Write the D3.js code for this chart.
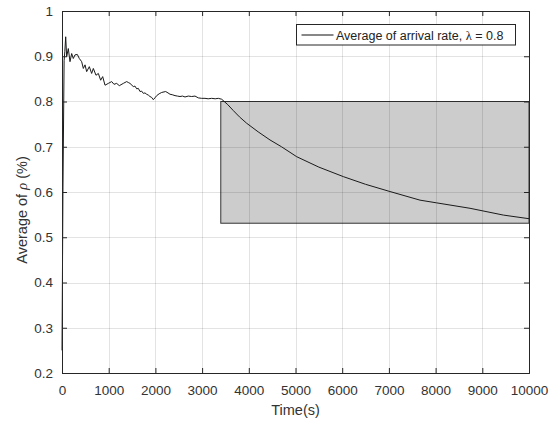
<!DOCTYPE html>
<html>
<head>
<meta charset="utf-8">
<script src="https://cdn.jsdelivr.net/npm/d3@7"></script>
<style>
  body { margin: 0; background: #fff; }
  svg { display: block; font-family: "Liberation Sans", Arial, sans-serif; }
</style>
</head>
<body>
<div id="chart"></div>
<script>
// time (s) and running average of rho
var timeVals = [0, 20, 45, 60, 79, 100, 135, 171, 207, 242, 278, 328, 371, 421, 457, 493, 528, 585, 635, 671, 728, 778, 828, 871, 921, 992, 1064, 1113, 1171, 1227, 1313, 1385, 1420, 1456, 1527, 1563, 1599, 1635, 1670, 1705, 1741, 1777, 1813, 1850, 1884, 1920, 1955, 1990, 2028, 2080, 2135, 2220, 2270, 2313, 2360, 2420, 2470, 2527, 2580, 2634, 2705, 2777, 2848, 2919, 2990, 3062, 3130, 3205, 3280, 3347, 3420, 3550, 3668, 3800, 3954, 4200, 4454, 4700, 5026, 5500, 6024, 6500, 7024, 7666, 8023, 8737, 9450, 10000];
var rhoVals = [0.25, 0.60, 0.89, 0.91, 0.943, 0.899, 0.917, 0.888, 0.906, 0.895, 0.903, 0.904, 0.895, 0.888, 0.873, 0.881, 0.866, 0.877, 0.862, 0.873, 0.858, 0.862, 0.847, 0.855, 0.836, 0.840, 0.844, 0.838, 0.840, 0.835, 0.840, 0.844, 0.842, 0.840, 0.833, 0.834, 0.828, 0.829, 0.822, 0.823, 0.818, 0.819, 0.816, 0.814, 0.811, 0.809, 0.804, 0.808, 0.813, 0.817, 0.820, 0.822, 0.819, 0.816, 0.815, 0.813, 0.812, 0.811, 0.812, 0.810, 0.812, 0.811, 0.812, 0.808, 0.807, 0.807, 0.806, 0.807, 0.806, 0.807, 0.805, 0.793, 0.780, 0.766, 0.752, 0.733, 0.715, 0.700, 0.678, 0.655, 0.634, 0.617, 0.601, 0.582, 0.576, 0.564, 0.549, 0.541];

var xTicks = [0, 1000, 2000, 3000, 4000, 5000, 6000, 7000, 8000, 9000, 10000];
var yTicks = [0.2, 0.3, 0.4, 0.5, 0.6, 0.7, 0.8, 0.9, 1];

// highlighted region [x0, x1, y0, y1]
var boxRegion = [3400, 10000, 0.531, 0.8];
var legendLabel = "Average of arrival rate, ";

var width = 555, height = 422,
  margin = { top: 11, right: 26, bottom: 49, left: 62 },
  innerW = width - margin.left - margin.right,
  innerH = height - margin.top - margin.bottom,
  axisColor = '#262626',
  tickLen = 5;

var svg = d3.select('#chart').append('svg')
  .attr('width', width)
  .attr('height', height);

var g = svg.append('g')
  .attr('transform', 'translate(' + margin.left + ',' + margin.top + ')');

var x = d3.scaleLinear().domain([0, 10000]).range([0, innerW]);
var y = d3.scaleLinear().domain([0.2, 1]).range([innerH, 0]);

// shaded box
g.append('rect')
  .attr('x', x(boxRegion[0]))
  .attr('y', y(boxRegion[3]))
  .attr('width', x(boxRegion[1]) - x(boxRegion[0]))
  .attr('height', y(boxRegion[2]) - y(boxRegion[3]))
  .attr('fill', '#cccccc')
  .attr('stroke', '#333')
  .attr('stroke-width', 1);

// grid (drawn on top, translucent like MATLAB)
var grid = g.append('g').attr('stroke', 'rgba(0,0,0,0.11)').attr('stroke-width', 1);
grid.selectAll('.vg').data(xTicks.slice(1, -1)).join('line')
  .attr('x1', d => Math.round(x(d)) + 0.5).attr('x2', d => Math.round(x(d)) + 0.5)
  .attr('y1', 0).attr('y2', innerH);
grid.selectAll('.hg').data(yTicks.slice(1, -1)).join('line')
  .attr('x1', 0).attr('x2', innerW)
  .attr('y1', d => Math.round(y(d)) + 0.5).attr('y2', d => Math.round(y(d)) + 0.5);

// data line
var line = d3.line()
  .x((d, i) => x(timeVals[i]))
  .y(d => y(d));

g.append('path')
  .datum(rhoVals)
  .attr('fill', 'none')
  .attr('stroke', '#1a1a1a')
  .attr('stroke-width', 1)
  .attr('stroke-linejoin', 'round')
  .attr('d', line);

// axes, ticks pointing inward, box on
var xAxis = d3.axisBottom(x).tickValues(xTicks).tickSize(-tickLen).tickPadding(12).tickFormat(d3.format('d'));
var yAxis = d3.axisLeft(y).tickValues(yTicks).tickSize(-tickLen).tickPadding(9).tickFormat(d => d === 1 ? '1' : d3.format('.1f')(d));

function styleAxis(sel) {
  sel.select('.domain').attr('stroke', axisColor);
  sel.selectAll('.tick line').attr('stroke', axisColor);
  sel.selectAll('.tick text').attr('fill', '#333').style('font-size', '13.5px');
}

g.append('g').attr('transform', 'translate(0,' + innerH + ')').call(xAxis).call(styleAxis);
g.append('g').call(yAxis).call(styleAxis);
g.append('g').call(d3.axisTop(x).tickValues(xTicks).tickSize(-tickLen).tickFormat(''))
  .call(styleAxis);
g.append('g').attr('transform', 'translate(' + innerW + ',0)')
  .call(d3.axisRight(y).tickValues(yTicks).tickSize(-tickLen).tickFormat(''))
  .call(styleAxis);

// axis labels
svg.append('text')
  .attr('x', margin.left + innerW / 2)
  .attr('y', 415)
  .attr('text-anchor', 'middle')
  .attr('fill', '#333')
  .style('font-size', '14.5px')
  .text('Time(s)');

var yl = svg.append('text')
  .attr('transform', 'translate(27,210) rotate(-90)')
  .attr('text-anchor', 'middle')
  .attr('fill', '#333')
  .style('font-size', '14.5px');
yl.append('tspan').text('Average of ');
yl.append('tspan').style('font-family', '"Liberation Serif", serif').style('font-style', 'italic').text('ρ');
yl.append('tspan').text(' (%)');

// legend
var lg = svg.append('g');
lg.append('rect')
  .attr('x', 296.5).attr('y', 24.5)
  .attr('width', 219).attr('height', 20.5)
  .attr('fill', '#fff')
  .attr('stroke', axisColor);
lg.append('line')
  .attr('x1', 301.5).attr('x2', 333.5)
  .attr('y1', 35).attr('y2', 35)
  .attr('stroke', '#111').attr('stroke-width', 1.1);
var lt = lg.append('text')
  .attr('x', 336).attr('y', 39.5)
  .attr('fill', '#222')
  .style('font-size', '12.5px');
lt.append('tspan').text(legendLabel);
lt.append('tspan').style('font-family', '"Liberation Serif", serif').text('λ');
lt.append('tspan').text(' = 0.8');
</script>
</body>
</html>
